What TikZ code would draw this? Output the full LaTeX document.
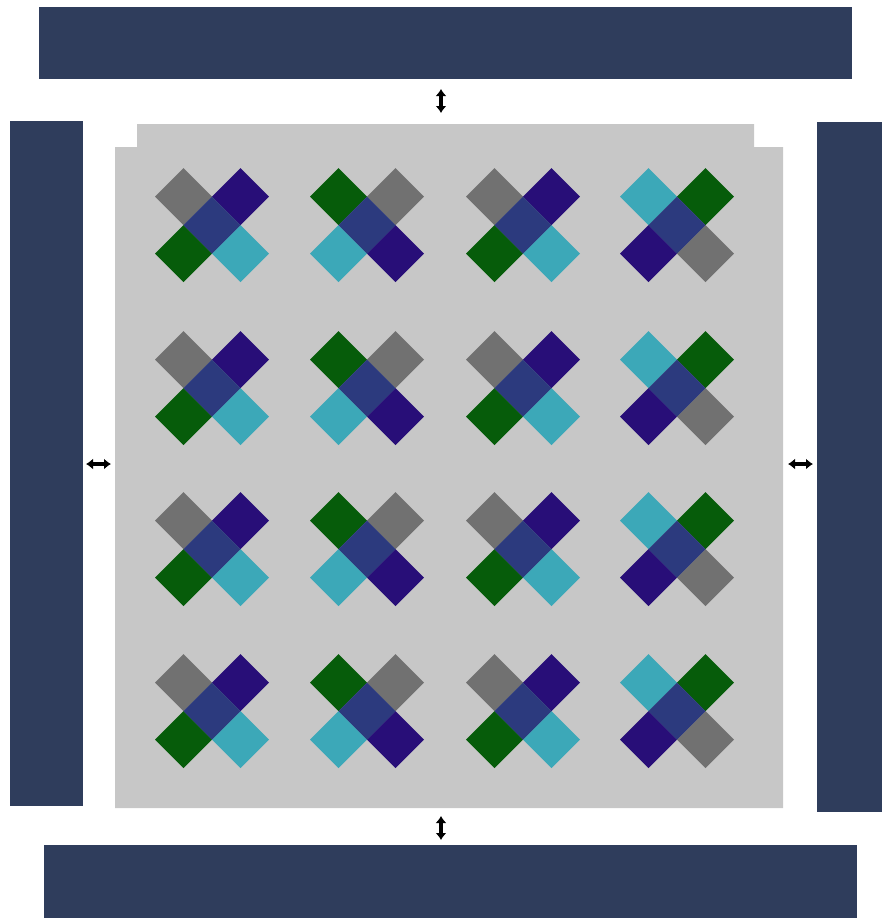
\documentclass[tikz,border=0pt]{standalone}
\usepackage{tikz}
\usetikzlibrary{arrows.meta}

\newcommand{\tile}[3]{\fill[#3] (#1-28.5,#2) -- (#1,#2-28.5) -- (#1+28.5,#2) -- (#1,#2+28.5) -- cycle;}

\begin{document}
\begin{tikzpicture}[x=0.5pt,y=-0.5pt]
    \definecolor{barc}{RGB}{47,61,92}
    \definecolor{padc}{RGB}{199,199,199}
    \definecolor{grayc}{RGB}{113,113,113}
    \definecolor{indc}{RGB}{40,14,120}
    \definecolor{grnc}{RGB}{6,92,10}
    \definecolor{cyanc}{RGB}{60,168,184}
    \definecolor{midc}{RGB}{44,58,126}
    \tikzset{gap/.style={line width=1.9pt, {Latex[length=3.5pt,width=5.5pt]}-{Latex[length=3.5pt,width=5.5pt]}}}

    \useasboundingbox (0,0) rectangle (882,918);

    % outer bars
    \fill[barc] (39,7) rectangle (852,79);
    \fill[barc] (44,845) rectangle (857,918);
    \fill[barc] (10,121) rectangle (83,806);
    \fill[barc] (817,122) rectangle (882,812);

    % grey pad with raised top edge
    \fill[padc] (115,147) -- (137,147) -- (137,124) -- (754,124)
      -- (754,147) -- (783,147) -- (783,808) -- (115,808) -- cycle;

    % crosses
    \foreach \cx/\ta/\tb/\tc/\td in {212/grayc/indc/grnc/cyanc, 367/grnc/grayc/cyanc/indc,
        523/grayc/indc/grnc/cyanc, 677/cyanc/grnc/indc/grayc}
      \foreach \cy in {225,388,549,711} {
        \tile{\cx-28.5}{\cy-28.5}{\ta}
        \tile{\cx+28.5}{\cy-28.5}{\tb}
        \tile{\cx-28.5}{\cy+28.5}{\tc}
        \tile{\cx+28.5}{\cy+28.5}{\td}
        \tile{\cx}{\cy}{midc}
      }

    % gaps
    \coordinate (topA) at (441,89);
    \coordinate (topB) at (441,113);
    \coordinate (botA) at (441,816);
    \coordinate (botB) at (441,840);
    \coordinate (lftA) at (86,464);
    \coordinate (lftB) at (111,464);
    \coordinate (rgtA) at (788,464);
    \coordinate (rgtB) at (813,464);

    \draw[gap] (topA) -- (topB);
    \draw[gap] (botA) -- (botB);
    \draw[gap] (lftA) -- (lftB);
    \draw[gap] (rgtA) -- (rgtB);
\end{tikzpicture}
\end{document}
